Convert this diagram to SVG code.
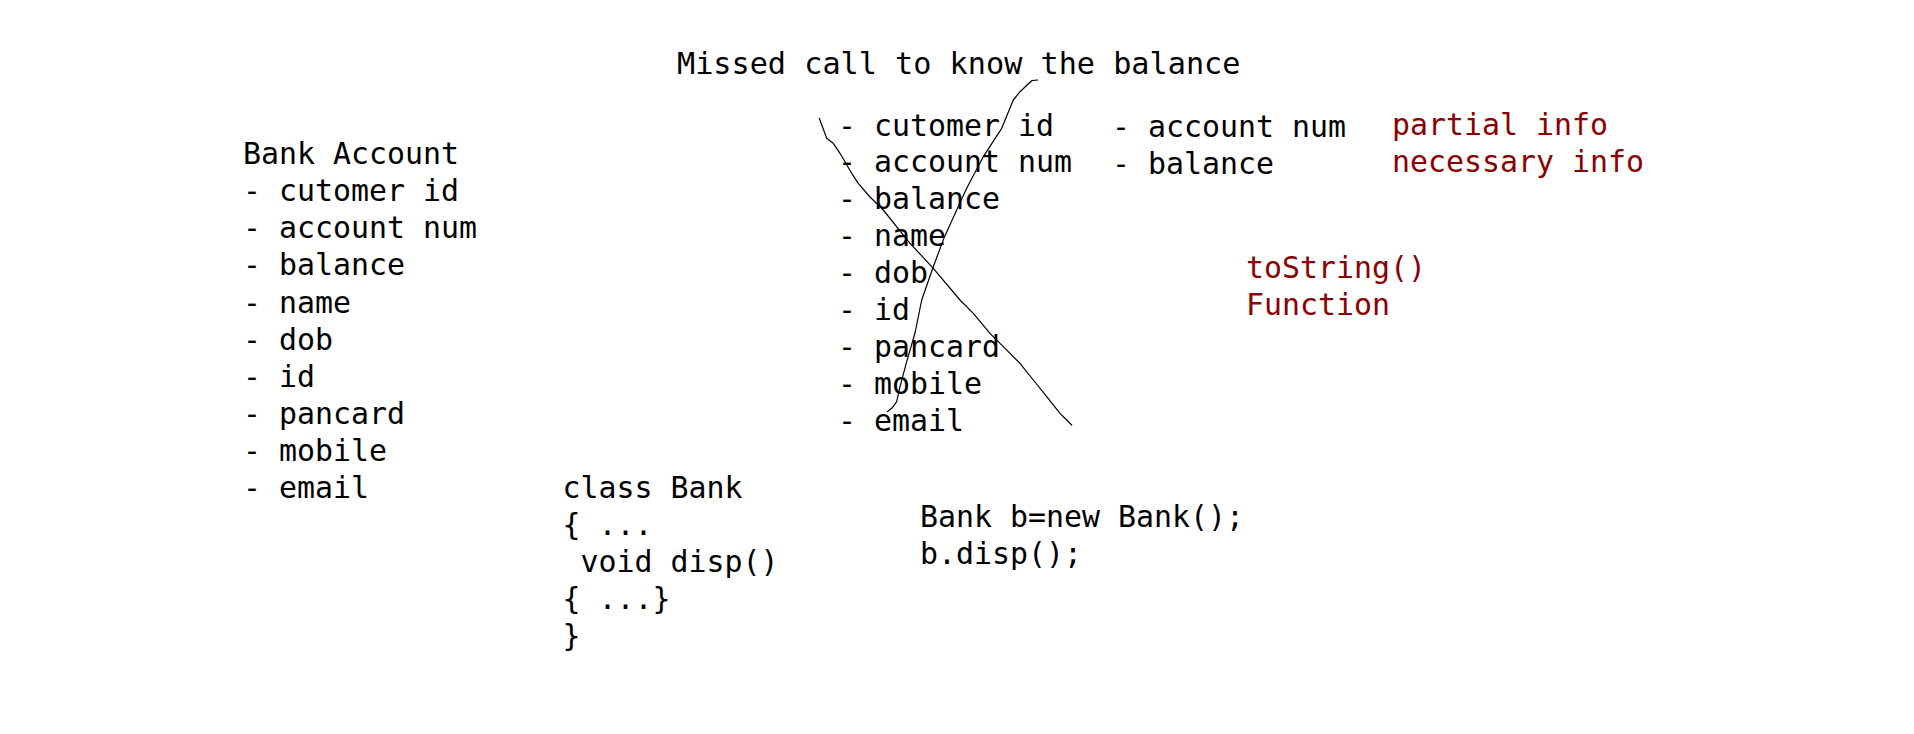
<svg xmlns="http://www.w3.org/2000/svg" width="1914" height="734" viewBox="0 0 1914 734">
<style>
text{font-family:"DejaVu Sans Mono","Liberation Mono",monospace;font-size:29.9px;fill:#000}
.title{font-size:30.2px}
.red{fill:#8b0000}
.pen{fill:none;stroke:#000;stroke-width:1.2;stroke-linecap:round;stroke-linejoin:round}
</style>
<rect width="1914" height="734" fill="#fff"/>
<g id="title"><text class="title" x="677" y="73.5">Missed call to know the balance</text></g>
<g id="bank-account">
<text x="243" y="164.3">Bank Account</text>
<text x="243" y="201.3">- cutomer id</text>
<text x="243" y="238.4">- account num</text>
<text x="243" y="275.4">- balance</text>
<text x="243" y="312.5">- name</text>
<text x="243" y="349.5">- dob</text>
<text x="243" y="386.5">- id</text>
<text x="243" y="423.6">- pancard</text>
<text x="243" y="460.6">- mobile</text>
<text x="243" y="497.7">- email</text>
</g>
<g id="all-fields">
<text x="838" y="135.5">- cutomer id</text>
<text x="838" y="172.4">- account num</text>
<text x="838" y="209.3">- balance</text>
<text x="838" y="246.2">- name</text>
<text x="838" y="283.1">- dob</text>
<text x="838" y="320">- id</text>
<text x="838" y="356.9">- pancard</text>
<text x="838" y="393.8">- mobile</text>
<text x="838" y="430.7">- email</text>
</g>
<g id="needed-fields">
<text x="1112" y="137">- account num</text>
<text x="1112" y="174">- balance</text>
</g>
<g id="info-labels">
<text class="red" x="1392" y="135">partial info</text>
<text class="red" x="1392" y="172">necessary info</text>
</g>
<g id="tostring-label">
<text class="red" x="1246" y="277.5">toString()</text>
<text class="red" x="1246" y="314.5">Function</text>
</g>
<g id="class-bank">
<text x="562.5" y="498.3">class Bank</text>
<text x="562.5" y="535.3">{ ...</text>
<text x="562.5" y="572.3" xml:space="preserve"> void disp()</text>
<text x="562.5" y="609.3">{ ...}</text>
<text x="562.5" y="646.3">}</text>
</g>
<g id="object-call">
<text x="920" y="527.3">Bank b=new Bank();</text>
<text x="920" y="564">b.disp();</text>
</g>
<g id="connectors">
<path class="pen" d="M1037.7,80 L1031.7,80.7 L1020,91.7 L1013.3,100 L1001.7,128.3 L983.3,156.7 L966.7,188.3 L956.7,210 L944,238 L933.3,266.7 L921.7,300 L915,333 L906.7,361.7 L900,386.7 L896.7,401.7 L891.7,408.3 L887.3,411.7"/>
<path class="pen" d="M819.3,118.3 L826.7,138.3 L833.3,143.3 L840,153.3 L851.7,173.3 L858.3,183.3 L870,197 L883.3,210 L910,243.3 L933.3,268.3 L960,300 L973.3,313.3 L990,333.3 L1003.3,346.7 L1020,363.3 L1033.3,380 L1046.7,396.7 L1060,413.3 L1066.7,420 L1071.7,425"/>
</g>
</svg>
